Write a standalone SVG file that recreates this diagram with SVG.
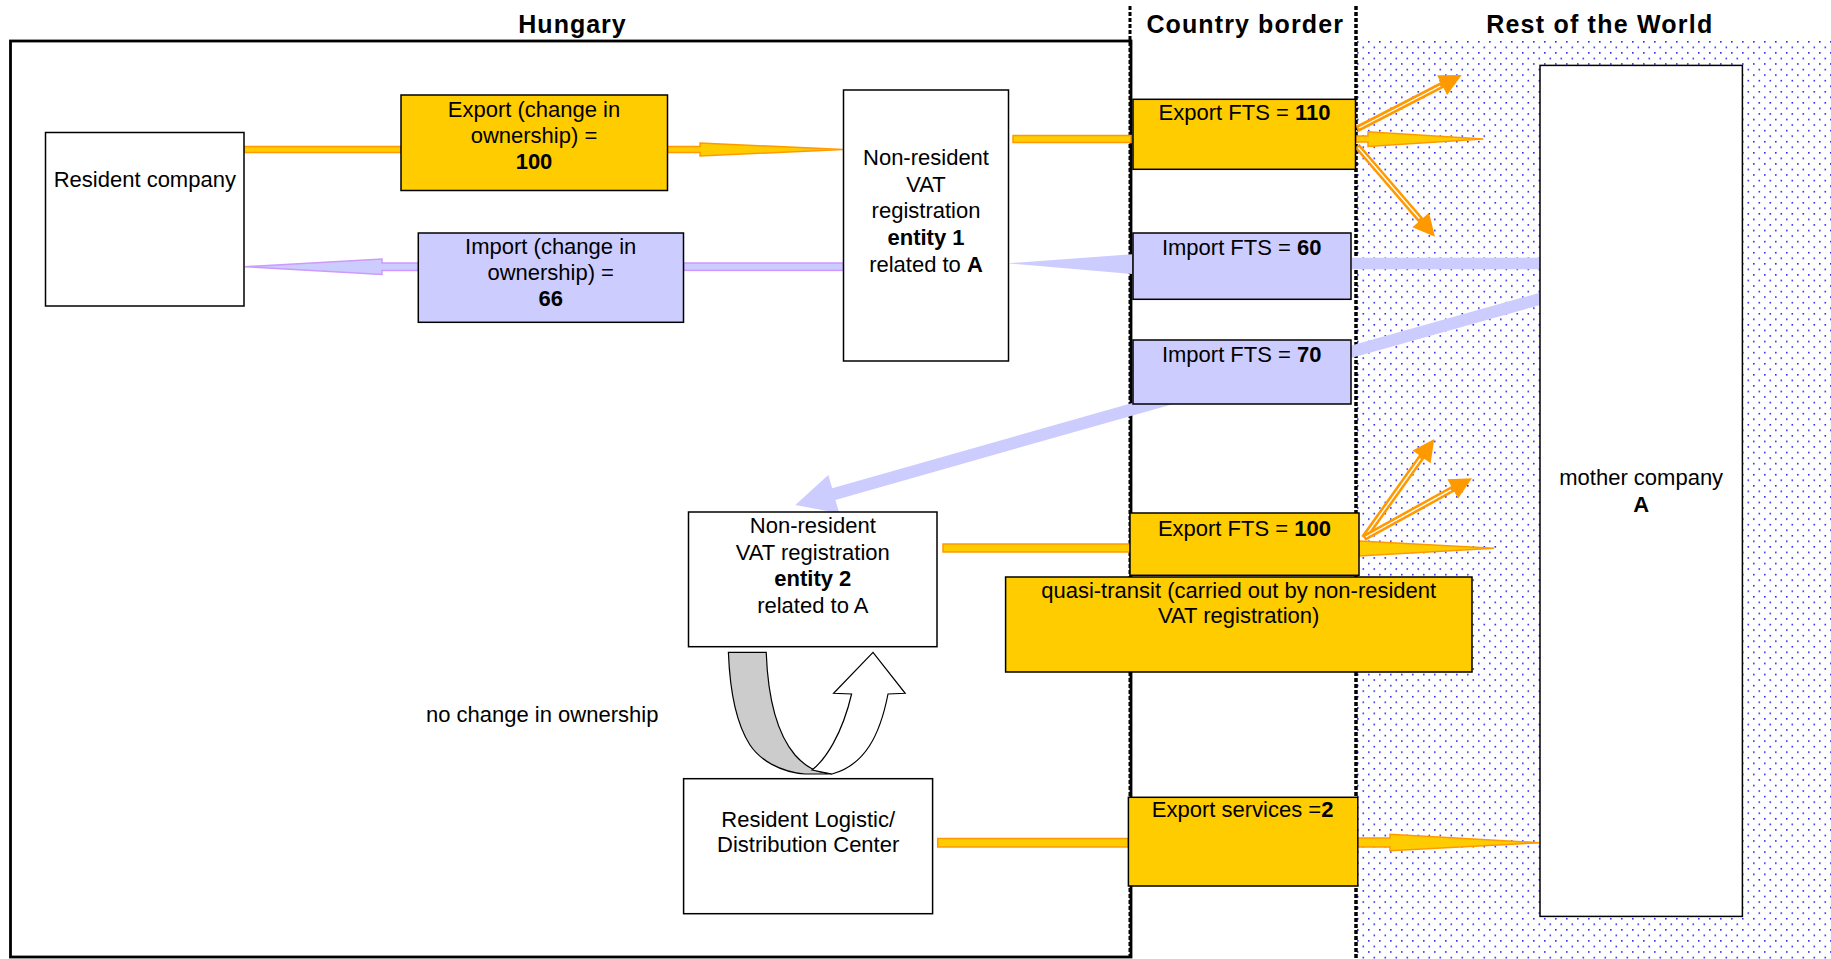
<svg xmlns="http://www.w3.org/2000/svg" width="1831" height="959" viewBox="0 0 1831 959">
<style>
text{font-family:"Liberation Sans",Arial,sans-serif;font-size:22px;fill:#000}
.t{font-weight:bold;font-size:25px}
.c{text-anchor:middle}
.b{font-weight:bold}
.box{fill:#fff;stroke:#000;stroke-width:1.5}
.ybox{fill:#FFCC00;stroke:#000;stroke-width:1.5}
.pbox{fill:#CCCCFF;stroke:#000;stroke-width:1.5}
.org{fill:#FFCC00;stroke:#FF9900;stroke-width:1.5}
.pur{fill:#CCCCFF;stroke:#CC99FF;stroke-width:1.5}
.lp{fill:#CCCCFF;stroke:none}
.os{stroke:#FF9900;stroke-width:6.5;fill:none}
.ws{stroke:#fff;stroke-width:1.4;fill:none}
.oh{fill:#FF9900;stroke:none}
</style>
<defs>
<pattern id="dots" x="1357" y="41" width="11" height="11.1" patternUnits="userSpaceOnUse">
<rect x="0" y="0" width="1.6" height="1.6" fill="#2a2aff"/>
<rect x="5.5" y="5.55" width="1.6" height="1.6" fill="#2a2aff"/>
</pattern>
</defs>
<rect x="0" y="0" width="1831" height="959" fill="#fff"/>
<g id="regions">
<rect x="1357" y="41" width="474" height="918" fill="url(#dots)"/>
<rect x="10.5" y="41" width="1120.5" height="916" fill="none" stroke="#000" stroke-width="2.8"/>
<line x1="1130" y1="6" x2="1130" y2="959" stroke="#000" stroke-width="3" stroke-dasharray="4 2"/>
<line x1="1356" y1="6" x2="1356" y2="959" stroke="#000" stroke-width="3.5" stroke-dasharray="4 2"/>
</g>
<g id="titles">
<text class="t" x="518.3" y="32.5" textLength="107.4" lengthAdjust="spacing">Hungary</text>
<text class="t" x="1146.4" y="32.5" textLength="196.5" lengthAdjust="spacing">Country border</text>
<text class="t" x="1486.2" y="32.5" textLength="226" lengthAdjust="spacing">Rest of the World</text>
</g>
<g id="connectors">
<rect class="org" x="244" y="146.5" width="157" height="6"/>
<polygon class="org" points="667,146.5 700,146.5 700,143 843,149.5 700,156 700,152.5 667,152.5"/>
<rect class="org" x="1013" y="135.5" width="118" height="7"/>
<line class="os" x1="1357" y1="129" x2="1445.7" y2="83.2"/>
<line class="ws" x1="1359" y1="128" x2="1440.3" y2="86"/>
<polygon class="oh" points="1461.7,75 1447.1,94.9 1437.1,75.3"/>
<line class="os" x1="1357" y1="146" x2="1423.3" y2="223.1"/>
<line class="ws" x1="1358.3" y1="147.5" x2="1419.4" y2="218.5"/>
<polygon class="oh" points="1435,236.7 1412.4,227.2 1429,212.8"/>
<polygon class="org" points="1356,136 1368,136 1368,131.7 1483.3,139 1368,146.5 1368,142 1356,142"/>
<rect class="lp" x="1352" y="257.7" width="188" height="11.6"/>
<polygon class="lp" points="1132,254.3 1132,274 1007,263.3"/>
<rect class="pur" x="683.5" y="263" width="160" height="7.4"/>
<polygon class="pur" points="418.3,263 382,263 382,259 245,266.7 382,274.4 382,270.4 418.3,270.4"/>
<line x1="1545" y1="297.5" x2="1345" y2="353.5" stroke="#CCCCFF" stroke-width="12"/>
<polygon class="lp" points="1187.9,387.3 832.2,488.3 828.3,474.9 795.3,505 839.3,513.3 835.4,499.9 1191.1,398.9"/>
<rect class="org" x="943" y="544" width="187" height="8"/>
<line class="os" x1="1364" y1="538" x2="1423.9" y2="453.7"/>
<line class="ws" x1="1365.2" y1="536.4" x2="1420.4" y2="458.5"/>
<polygon class="oh" points="1434.3,439 1430.6,463.3 1412.6,450.5"/>
<line class="os" x1="1364" y1="538" x2="1456.25" y2="487"/>
<line class="ws" x1="1365.8" y1="537" x2="1451" y2="489.9"/>
<polygon class="oh" points="1472,478.3 1458.1,498.6 1447.4,479.3"/>
<polygon class="org" points="1359,541 1494,548.3 1359,556"/>
<rect class="org" x="937.7" y="838.5" width="190.5" height="8.5"/>
<polygon class="org" points="1357.8,838 1390,838 1390,834.3 1540.6,842.7 1390,850.7 1390,847 1357.8,847"/>
<path d="M728.4,652.3 L766.2,652.3 C768,700 778,735 795,755 C803,764 810,769 820,772 L832,774 L805,774 C780,772 760,760 750,745 C737,725 730,695 728.4,652.3 Z" fill="#CCCCCC" stroke="#000" stroke-width="1.2"/>
<path d="M812,770 C825,760 842,735 851.6,694 L833.6,693.3 L873,652.3 L905.2,693.3 L888,694 C880,735 865,765 832,774 Z" fill="#fff" stroke="#000" stroke-width="1.2"/>
</g>
<g id="resident-company">
<rect class="box" x="45.5" y="132.5" width="198.5" height="173.5"/>
<text class="c" x="144.8" y="186.7">Resident company</text>
</g>
<g id="export-change">
<rect class="ybox" x="401" y="95" width="266.5" height="95.5"/>
<text class="c" x="534" y="116.7">Export (change in</text>
<text class="c" x="534" y="143.3">ownership) =</text>
<text class="c b" x="534" y="169.3">100</text>
</g>
<g id="import-change">
<rect class="pbox" x="418.3" y="233" width="265.2" height="89.3"/>
<text class="c" x="550.7" y="254">Import (change in</text>
<text class="c" x="550.7" y="280.3">ownership) =</text>
<text class="c b" x="550.7" y="306">66</text>
</g>
<g id="nr-entity-1">
<rect class="box" x="843.5" y="90" width="165" height="271"/>
<text class="c" x="926" y="165">Non-resident</text>
<text class="c" x="926" y="191.7">VAT</text>
<text class="c" x="926" y="218.3">registration</text>
<text class="c b" x="926" y="245">entity 1</text>
<text class="c" x="926" y="271.7">related to <tspan class="b">A</tspan></text>
</g>
<g id="export-fts-110">
<rect class="ybox" x="1133" y="99.3" width="222.5" height="70"/>
<text class="c" x="1244.5" y="120">Export FTS = <tspan class="b">110</tspan></text>
</g>
<g id="import-fts-60">
<rect class="pbox" x="1133" y="233" width="218" height="66.3"/>
<text class="c" x="1241.7" y="255">Import FTS = <tspan class="b">60</tspan></text>
</g>
<g id="import-fts-70">
<rect class="pbox" x="1133" y="340" width="218" height="64"/>
<text class="c" x="1241.7" y="362">Import FTS = <tspan class="b">70</tspan></text>
</g>
<g id="nr-entity-2">
<rect class="box" x="688.5" y="512" width="248.5" height="134.7"/>
<text class="c" x="812.8" y="532.7">Non-resident</text>
<text class="c" x="812.8" y="560">VAT registration</text>
<text class="c b" x="812.8" y="586">entity 2</text>
<text class="c" x="812.8" y="613.3">related to A</text>
</g>
<g id="export-fts-100">
<rect class="ybox" x="1130" y="513" width="229" height="62.3"/>
<text class="c" x="1244.4" y="536">Export FTS = <tspan class="b">100</tspan></text>
</g>
<g id="quasi-transit">
<rect class="ybox" x="1005.6" y="577" width="466.4" height="95"/>
<text class="c" x="1238.7" y="598.3">quasi-transit (carried out by non-resident</text>
<text class="c" x="1238.7" y="623.3">VAT registration)</text>
</g>
<g id="no-change-label">
<text x="426" y="722.3">no change in ownership</text>
</g>
<g id="resident-logistic">
<rect class="box" x="683.6" y="778.7" width="249" height="135"/>
<text class="c" x="808.2" y="827.3">Resident Logistic/</text>
<text class="c" x="808.2" y="852.3">Distribution Center</text>
</g>
<g id="export-services">
<rect class="ybox" x="1128.4" y="797.3" width="229.4" height="88.7"/>
<text class="c" x="1242.6" y="817.3">Export services =<tspan class="b">2</tspan></text>
</g>
<g id="mother-company">
<rect class="box" x="1540" y="65.4" width="202.4" height="851"/>
<text class="c" x="1641.2" y="485">mother company</text>
<text class="c b" x="1641.2" y="512">A</text>
</g>
</svg>
